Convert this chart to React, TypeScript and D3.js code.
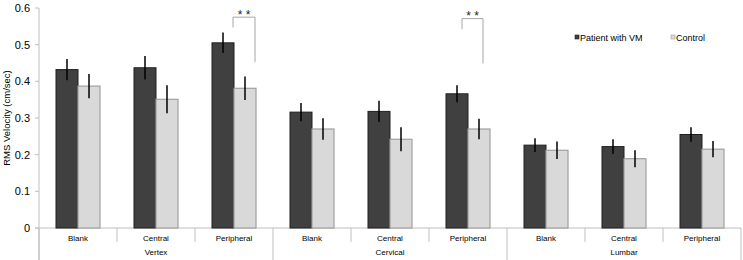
import React from "react";
import * as d3 from "d3";

const categories = ["Blank", "Central", "Peripheral", "Blank", "Central", "Peripheral", "Blank", "Central", "Peripheral"];
const groups = ["Vertex", "Cervical", "Lumbar"];
const seriesNames = ["Patient with VM", "Control"];
const patientValues = [0.432, 0.437, 0.505, 0.316, 0.318, 0.366, 0.226, 0.222, 0.255];
const patientErrors = [0.029, 0.032, 0.028, 0.025, 0.029, 0.023, 0.019, 0.02, 0.02];
const controlValues = [0.387, 0.351, 0.381, 0.27, 0.242, 0.27, 0.212, 0.189, 0.215];
const controlErrors = [0.033, 0.038, 0.032, 0.029, 0.033, 0.028, 0.024, 0.023, 0.022];
const yTicks = [0, 0.1, 0.2, 0.3, 0.4, 0.5, 0.6];
// significance brackets: category index, top value, left end value, right end value
const brackets = [
  { cat: 2, top: 0.575, left: 0.547, right: 0.452, dx1: 10, dx2: 10 },
  { cat: 5, top: 0.571, left: 0.542, right: 0.449, dx1: 5, dx2: 4 },
];

const W = 743;
const H = 260;
const FONT = "'Liberation Sans', Arial, sans-serif";

export default function App() {
  const x0 = 39;
  const x1 = 741;
  const x = d3.scaleBand<number>().domain(d3.range(categories.length)).range([x0, x1]);
  const y = d3.scaleLinear().domain([0, 0.6]).range([228, 8]);
  const bw = 22;
  const axisColor = "#bfbfbf";
  const bottom = y(0);

  return (
    <svg width={W} height={H} style={{ position: "absolute", left: 0, top: 0 }} fontFamily={FONT}>
      <rect width={W} height={H} fill="#fff" />
      {/* y axis */}
      <line x1={x0} x2={x0} y1={y(0.6)} y2={H} stroke={axisColor} strokeWidth={1} />
      {yTicks.map((t) => (
        <g key={t}>
          <line x1={x0 - 4} x2={x0} y1={y(t)} y2={y(t)} stroke={axisColor} />
          <text x={30} y={y(t)} dy="0.36em" textAnchor="end" fontSize={11} fill="#000">
            {t === 0 ? "0" : t.toFixed(1)}
          </text>
        </g>
      ))}
      <text
        transform={`translate(10,${(y(0) + y(0.6)) / 2}) rotate(-90)`}
        textAnchor="middle"
        fontSize={9.5}
        fill="#000"
      >
        RMS Velocity (cm/sec)
      </text>
      {/* x axis */}
      <line x1={x0 - 4} x2={x1} y1={bottom} y2={bottom} stroke={axisColor} />
      {d3.range(categories.length + 1).map((i) => {
        const xx = x0 + i * x.bandwidth();
        const major = i % 3 === 0;
        return (
          <line key={i} x1={xx} x2={xx} y1={bottom} y2={major ? H : bottom + 14} stroke={axisColor} />
        );
      })}
      {categories.map((c, i) => (
        <text
          key={i}
          x={(x(i) as number) + x.bandwidth() / 2}
          y={240.5}
          textAnchor="middle"
          fontSize={8}
          fill="#000"
        >
          {c}
        </text>
      ))}
      {groups.map((g, gi) => (
        <text
          key={g}
          x={(x(gi * 3) as number) + (x.bandwidth() * 3) / 2}
          y={255}
          textAnchor="middle"
          fontSize={8}
          fill="#000"
        >
          {g}
        </text>
      ))}
      {/* bars */}
      {categories.map((_, i) => {
        const cx = (x(i) as number) + x.bandwidth() / 2;
        return (
          <g key={i}>
            <rect
              x={cx - bw}
              y={y(patientValues[i])}
              width={bw}
              height={bottom - y(patientValues[i])}
              fill="#404040"
              stroke="#1e1e1e"
              strokeWidth={1}
            />
            <rect
              x={cx}
              y={y(controlValues[i])}
              width={bw}
              height={bottom - y(controlValues[i])}
              fill="#d9d9d9"
              stroke="#a0a0a0"
              strokeWidth={1.2}
            />
            <line
              x1={cx - bw / 2}
              x2={cx - bw / 2}
              y1={y(patientValues[i] + patientErrors[i])}
              y2={y(patientValues[i] - patientErrors[i])}
              stroke="#000"
              strokeWidth={1.5}
            />
            <line
              x1={cx + bw / 2}
              x2={cx + bw / 2}
              y1={y(controlValues[i] + controlErrors[i])}
              y2={y(controlValues[i] - controlErrors[i])}
              stroke="#000"
              strokeWidth={1.5}
            />
          </g>
        );
      })}
      {/* significance brackets */}
      {brackets.map((b, i) => {
        const cx = (x(b.cat) as number) + x.bandwidth() / 2;
        const lx = cx - bw / 2 + b.dx1;
        const rx = cx + bw / 2 + b.dx2;
        return (
          <g key={i}>
            <path
              d={`M${lx},${y(b.left)}V${y(b.top)}H${rx}V${y(b.right)}`}
              fill="none"
              stroke="#a6a6a6"
              strokeWidth={1}
            />
            <text x={(lx + rx) / 2} y={y(b.top) + 1.5} textAnchor="middle" fontSize={12} fill="#222">
              * *
            </text>
          </g>
        );
      })}
      {/* legend */}
      {seriesNames.map((s, i) => {
        const lx = i === 0 ? 575 : 671;
        return (
          <g key={s}>
            <rect
              x={lx}
              y={35}
              width={4}
              height={4}
              fill={i === 0 ? "#404040" : "#d9d9d9"}
              stroke={i === 0 ? "#1e1e1e" : "#a0a0a0"}
              strokeWidth={0.6}
            />
            <text x={lx + 5} y={40.5} fontSize={9} fill="#000">
              {s}
            </text>
          </g>
        );
      })}
    </svg>
  );
}
